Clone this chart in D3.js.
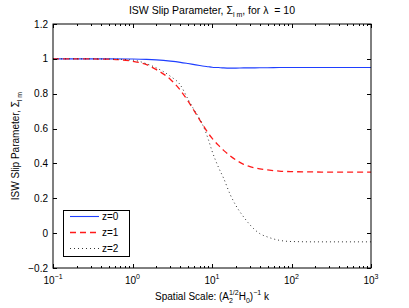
<!DOCTYPE html>
<html><head><meta charset="utf-8">
<script src="https://cdn.jsdelivr.net/npm/d3@7"></script>
<style>body{margin:0;background:#fff}svg{display:block}text{font-family:"Liberation Sans",Arial,Helvetica,sans-serif;fill:#000;white-space:pre}</style>
</head><body><svg id="c" width="409" height="308"></svg>
<script>
const kValues=[0.1,0.2,0.5,1,1.5,2,3,4,5,6,7,8,9,10,12,14,17,20,25,30,40,50,70,100,200,500,1000];
const z0=[1,1,1,0.999,0.997,0.994,0.987,0.98,0.973,0.967,0.962,0.958,0.955,0.952,0.95,0.948,0.947,0.947,0.948,0.948,0.949,0.949,0.95,0.95,0.95,0.95,0.95];
const z1=[1,1,0.998,0.986,0.967,0.938,0.882,0.82,0.757,0.70,0.65,0.608,0.572,0.545,0.505,0.475,0.443,0.42,0.395,0.382,0.369,0.363,0.356,0.353,0.351,0.35,0.35];
const z2=[1,1,0.999,0.993,0.972,0.948,0.9,0.85,0.768,0.705,0.655,0.6,0.537,0.472,0.38,0.315,0.22,0.158,0.093,0.048,-0.003,-0.022,-0.041,-0.048,-0.05,-0.05,-0.05];
const seriesNames=["z=0","z=1","z=2"];
const yTicks=[-0.2,0,0.2,0.4,0.6,0.8,1,1.2];
const yTickLabels=["\u22120.2","0","0.2","0.4","0.6","0.8","1","1.2"];
const xTicks=[0.1,1,10,100,1000];
const xTickExp=["\u22121","0","1","2","3"];

const svg=d3.select("#c");
const L=53,R=371,T=24,B=268;
const x=d3.scaleLog().domain([0.1,1000]).range([L,R]);
const y=d3.scaleLinear().domain([-0.2,1.2]).range([B,T]);

const styles=[{c:"#1f3fff",d:null,w:1.1},{c:"#ff1a1a",d:"6,4",w:1.3},{c:"#333",d:"1,3",w:1}];
const line=d3.line().x(d=>x(d[0])).y(d=>y(d[1])).curve(d3.curveMonotoneX);
[z0,z1,z2].forEach((s,i)=>{
  svg.append("path").attr("d",line(kValues.map((k,j)=>[k,s[j]])))
   .attr("fill","none").attr("stroke",styles[i].c).attr("stroke-width",styles[i].w)
   .attr("stroke-dasharray",styles[i].d);
});

// box
svg.append("rect").attr("x",L).attr("y",T).attr("width",R-L).attr("height",B-T)
 .attr("fill","none").attr("stroke","#000").attr("stroke-width",1);

// ticks
const minor=[];
for(let e=-1;e<3;e++)for(let m=2;m<=9;m++)minor.push(m*Math.pow(10,e));
const tk=svg.append("g").attr("stroke","#000").attr("stroke-width",1);
xTicks.forEach(v=>{const px=Math.round(x(v))+0.5;
  tk.append("line").attr("x1",px).attr("x2",px).attr("y1",B).attr("y2",B-4);
  tk.append("line").attr("x1",px).attr("x2",px).attr("y1",T).attr("y2",T+4);});
minor.forEach(v=>{const px=Math.round(x(v))+0.5;
  tk.append("line").attr("x1",px).attr("x2",px).attr("y1",B).attr("y2",B-2);
  tk.append("line").attr("x1",px).attr("x2",px).attr("y1",T).attr("y2",T+2);});
yTicks.forEach(v=>{const py=Math.round(y(v))+0.5;
  tk.append("line").attr("x1",L).attr("x2",L+4).attr("y1",py).attr("y2",py);
  tk.append("line").attr("x1",R).attr("x2",R-4).attr("y1",py).attr("y2",py);});

// y tick labels
yTicks.forEach((v,i)=>{
  svg.append("text").attr("x",L-5).attr("y",y(v)+3.5).attr("text-anchor","end")
   .attr("font-size",10).text(yTickLabels[i]);
});
// x tick labels
xTicks.forEach((v,i)=>{
  const t=svg.append("text").attr("x",x(v)).attr("y",284).attr("text-anchor","middle").attr("font-size",10);
  t.append("tspan").text("10");
  t.append("tspan").attr("font-size",7).attr("dy",-5).text(xTickExp[i]);
});

// title
const tt=svg.append("text").attr("x",(L+R)/2).attr("y",14).attr("text-anchor","middle").attr("font-size",10.5);
tt.append("tspan").text("ISW Slip Parameter, \u03A3");
tt.append("tspan").attr("font-size",7).attr("dy",3).text("l m");
tt.append("tspan").attr("dy",-3).text(", for \u03BB  = 10");

// x label
const xl=svg.append("text").attr("x",(L+R)/2).attr("y",300).attr("text-anchor","middle").attr("font-size",10);
xl.append("tspan").text("Spatial Scale: (A");
xl.append("tspan").attr("font-size",7).attr("dy",3).text("2");
xl.append("tspan").attr("font-size",7).attr("dx",-4).attr("dy",-8).text("1/2");
xl.append("tspan").attr("dy",5).text("H");
xl.append("tspan").attr("font-size",7).attr("dy",3).text("0");
xl.append("tspan").attr("dy",-3).text(")");
xl.append("tspan").attr("font-size",7).attr("dy",-5).text("\u22121");
xl.append("tspan").attr("dy",5).text(" k");

// y label
const yl=svg.append("text").attr("transform",`translate(19,${(T+B)/2}) rotate(-90)`).attr("text-anchor","middle").attr("font-size",10);
yl.append("tspan").text("ISW Slip Parameter, \u03A3");
yl.append("tspan").attr("font-size",7).attr("dy",3).text("l m");

// legend
const lg=svg.append("g");
lg.append("rect").attr("x",63.5).attr("y",210.5).attr("width",66).attr("height",46)
 .attr("fill","#fff").attr("stroke","#000").attr("stroke-width",1);
const lys=[216.5,232.5,248.5];
seriesNames.forEach((n,i)=>{
  lg.append("line").attr("x1",70).attr("x2",99).attr("y1",lys[i]).attr("y2",lys[i])
   .attr("stroke",styles[i].c).attr("stroke-width",styles[i].w).attr("stroke-dasharray",styles[i].d);
  lg.append("text").attr("x",102).attr("y",lys[i]+3.5).attr("font-size",10).text(n);
});
</script></body></html>
